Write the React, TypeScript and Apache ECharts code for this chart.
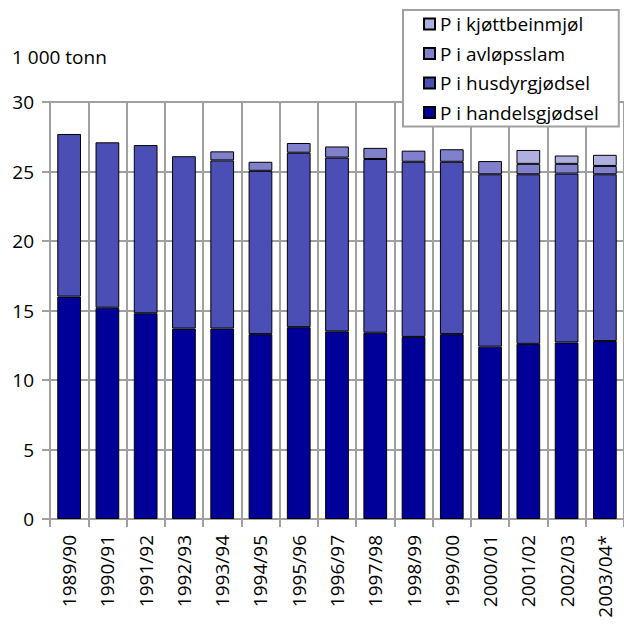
import React, { useEffect, useRef } from "react";
import * as echarts from "echarts";

const categories = [
  "1989/90", "1990/91", "1991/92", "1992/93", "1993/94", "1994/95", "1995/96",
  "1996/97", "1997/98", "1998/99", "1999/00", "2000/01", "2001/02", "2002/03", "2003/04*",
];
const handelsgjodsel = [16.0, 15.2, 14.8, 13.7, 13.7, 13.3, 13.8, 13.5, 13.4, 13.1, 13.3, 12.4, 12.6, 12.7, 12.8];
const husdyrgjodsel = [11.7, 11.9, 12.1, 12.4, 12.1, 11.75, 12.55, 12.5, 12.5, 12.6, 12.4, 12.4, 12.2, 12.15, 12.0];
const avlopsslam: (number | null)[] = [null, null, null, null, 0.65, 0.65, 0.7, 0.8, 0.8, 0.8, 0.9, 0.95, 0.75, 0.7, 0.6];
const kjottbeinmjol: (number | null)[] = [null, null, null, null, null, null, null, null, null, null, null, null, 1.0, 0.6, 0.8];
const yTicks = [0, 5, 10, 15, 20, 25, 30];

const FONT = "'Open Sans', 'Noto Sans', sans-serif";
const FS = 19;

export default function App() {
  const ref = useRef<HTMLDivElement>(null);
  useEffect(() => {
    if (!ref.current) return;
    const chart = echarts.init(ref.current, null, { renderer: "svg" });
    const mk = (name: string, data: (number | null)[], color: string) => ({
      name,
      type: "bar",
      stack: "total",
      data,
      barWidth: "62%",
      itemStyle: { color, borderColor: "#000", borderWidth: 1 },
    });
    chart.setOption({
      animation: false,
      textStyle: { fontFamily: FONT },
      grid: { left: 50, top: 102, width: 576, height: 417, containLabel: false },
      graphic: [
        {
          type: "text",
          left: 12,
          top: 47,
          style: { text: "1 000 tonn", fontSize: FS, fontFamily: FONT, fill: "#000" },
        },
      ],
      legend: {
        orient: "vertical",
        left: 403,
        top: 10,
        itemWidth: 11,
        itemHeight: 11,
        itemGap: 7.5,
        padding: [3, 20, 3, 20],
        backgroundColor: "#fff",
        borderColor: "#a0a0a0",
        borderWidth: 2,
        borderRadius: 0,
        icon: "rect",
        textStyle: { fontSize: FS, lineHeight: 22, fontFamily: FONT, color: "#000" },
        data: ["P i kjøttbeinmjøl", "P i avløpsslam", "P i husdyrgjødsel", "P i handelsgjødsel"],
        z: 10,
      },
      xAxis: {
        type: "category",
        data: categories,
        boundaryGap: true,
        axisLine: { show: true, lineStyle: { color: "#a0a0a0", width: 2 } },
        axisTick: { show: true, length: 8, interval: 0, lineStyle: { color: "#a0a0a0", width: 2 } },
        splitLine: { show: true, interval: 0, lineStyle: { color: "#a0a0a0", width: 2 } },
        axisLabel: {
          rotate: 90,
          interval: 0,
          fontSize: FS,
          fontFamily: FONT,
          color: "#000",
          margin: 16,
        },
      },
      yAxis: {
        type: "value",
        min: 0,
        max: 30,
        interval: 5,
        axisLine: { show: true, lineStyle: { color: "#a0a0a0", width: 2 } },
        axisTick: { show: true, length: 8, lineStyle: { color: "#a0a0a0", width: 2 } },
        splitLine: { show: true, lineStyle: { color: "#a0a0a0", width: 2 } },
        axisLabel: {
          fontSize: FS,
          fontFamily: FONT,
          color: "#000",
          margin: 16,
          formatter: (v: number) => (yTicks.includes(v) ? String(v) : ""),
        },
      },
      series: [
        mk("P i handelsgjødsel", handelsgjodsel, "#000099"),
        mk("P i husdyrgjødsel", husdyrgjodsel, "#4b4fb5"),
        mk("P i avløpsslam", avlopsslam, "#8080cc"),
        mk("P i kjøttbeinmjøl", kjottbeinmjol, "#b0b0e0"),
      ],
    });
    return () => chart.dispose();
  }, []);
  return (
    <div
      ref={ref}
      style={{ position: "fixed", left: 0, top: 0, width: 624, height: 624, background: "#fff" }}
    />
  );
}
